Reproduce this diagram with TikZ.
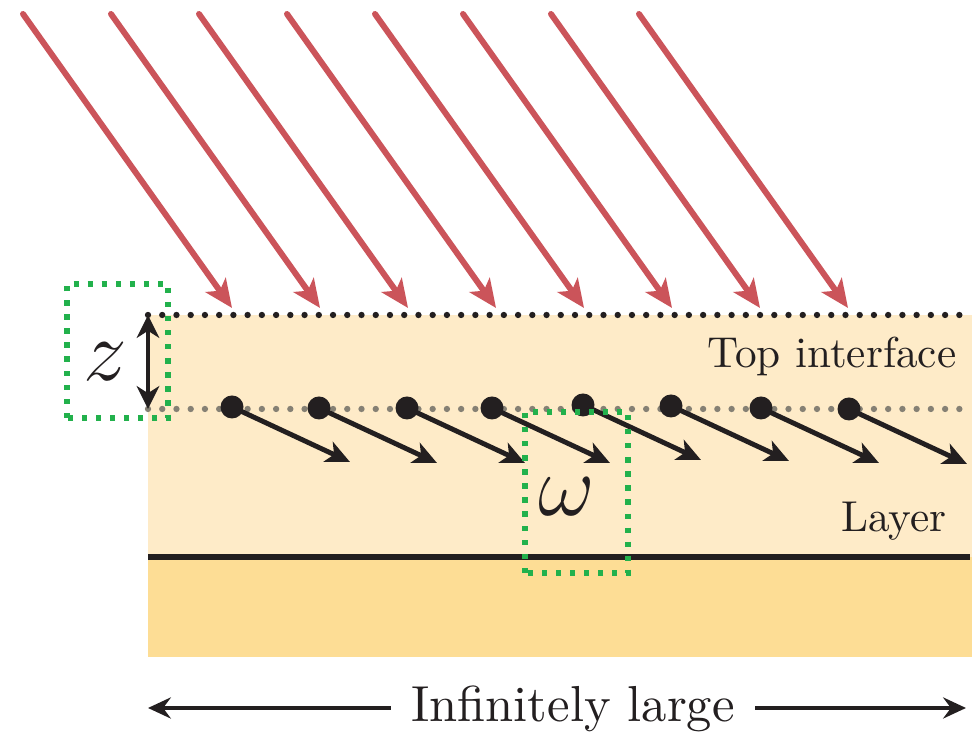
\documentclass[tikz,border=0pt]{standalone}
\usepackage{amsmath,amssymb}
\usepackage{fontspec}
\setmainfont{lmroman10-regular}[Extension=.otf]
\usepackage{tikz}
\usetikzlibrary{arrows.meta,positioning,calc}
\usepackage{xcolor}
\definecolor{ink}{HTML}{231F20}
\definecolor{rayred}{HTML}{CB545A}
\definecolor{mark}{HTML}{22B14C}
\definecolor{dotgray}{HTML}{858074}
\definecolor{layerlight}{HTML}{FEEBC8}
\definecolor{layerdark}{HTML}{FDDD95}

\begin{document}
\begin{tikzpicture}[
  ray/.style={-{Stealth[length=8pt, width=7pt, inset=2pt]}, line width=1.7pt, color=rayred, line cap=round},
  spin/.style={-{Stealth[length=6.8pt, width=6.2pt, inset=1.8pt]}, line width=1.4pt, color=ink},
  site/.style={circle, fill=ink, minimum size=2.3mm, inner sep=0pt},
  dotline/.style={line width=1.8pt, line cap=round, dash pattern=on 0pt off 4.05pt},
  greenbox/.style={draw=mark, line width=1.6pt, dash pattern=on 1.5pt off 2.5pt},
  span/.style={{Stealth[length=6.5pt, width=6pt, inset=2.2pt]}-, line width=1.05pt, color=ink},
  both/.style={{Stealth[length=6.5pt, width=6.4pt, inset=2pt]}-{Stealth[length=6.5pt, width=6.4pt, inset=2pt]}, line width=1.3pt, color=ink},
  lbl/.style={font=\fontsize{12.3}{14}\selectfont, text=ink, inner sep=0pt},
  big/.style={font=\fontsize{23}{25}\selectfont, text=ink, inner sep=0pt}
]
\useasboundingbox (0,0) rectangle (9.72,7.34);

% --- the layer and the substrate
\fill[layerlight] (1.48,1.77) rectangle (9.72,4.19);
\fill[layerdark]  (1.48,0.77) rectangle (9.72,1.77);
\draw[ink, line width=1.6pt] (1.48,1.77) -- (9.70,1.77);
\draw[dotline, ink]     (1.48,4.19) -- (9.72,4.19);
\draw[dotline, dotgray] (1.48,3.25) -- (9.72,3.25);

% --- incoming rays
\coordinate (r1) at (0.23,7.20); \coordinate (t1) at (2.32,4.26);
\coordinate (r2) at (1.11,7.20); \coordinate (t2) at (3.20,4.26);
\coordinate (r3) at (1.99,7.20); \coordinate (t3) at (4.08,4.26);
\coordinate (r4) at (2.87,7.20); \coordinate (t4) at (4.96,4.26);
\coordinate (r5) at (3.75,7.20); \coordinate (t5) at (5.84,4.26);
\coordinate (r6) at (4.63,7.20); \coordinate (t6) at (6.72,4.26);
\coordinate (r7) at (5.51,7.20); \coordinate (t7) at (7.60,4.26);
\coordinate (r8) at (6.39,7.20); \coordinate (t8) at (8.48,4.26);
\draw[ray] (r1) -- (t1);
\draw[ray] (r2) -- (t2);
\draw[ray] (r3) -- (t3);
\draw[ray] (r4) -- (t4);
\draw[ray] (r5) -- (t5);
\draw[ray] (r6) -- (t6);
\draw[ray] (r7) -- (t7);
\draw[ray] (r8) -- (t8);

% --- sites and their moments
\node[site] (d1) at (2.32,3.27) {};
\node[site] (d2) at (3.19,3.26) {};
\node[site] (d3) at (4.07,3.26) {};
\node[site] (d4) at (4.92,3.26) {};
\node[site] (d5) at (5.83,3.29) {};
\node[site] (d6) at (6.71,3.28) {};
\node[site] (d7) at (7.61,3.26) {};
\node[site] (d8) at (8.49,3.25) {};
\coordinate (s1) at ($(d1)+(1.18,-0.55)$);
\coordinate (s2) at ($(d2)+(1.18,-0.55)$);
\coordinate (s3) at ($(d3)+(1.18,-0.55)$);
\coordinate (s4) at ($(d4)+(1.18,-0.55)$);
\coordinate (s5) at ($(d5)+(1.18,-0.55)$);
\coordinate (s6) at ($(d6)+(1.18,-0.55)$);
\coordinate (s7) at ($(d7)+(1.18,-0.55)$);
\coordinate (s8) at ($(d8)+(1.18,-0.55)$);
\draw[spin] (d1.center) -- (s1);
\draw[spin] (d2.center) -- (s2);
\draw[spin] (d3.center) -- (s3);
\draw[spin] (d4.center) -- (s4);
\draw[spin] (d5.center) -- (s5);
\draw[spin] (d6.center) -- (s6);
\draw[spin] (d7.center) -- (s7);
\draw[spin] (d8.center) -- (s8);

% --- depth z and frequency omega
\draw[greenbox] (0.67,3.16) rectangle (1.68,4.50);
\draw[greenbox] (5.25,1.61) rectangle (6.28,3.22);
\coordinate (ztop) at (1.48,4.19);
\coordinate (zbot) at (1.48,3.25);
\draw[both] (ztop) -- (zbot);
\node[big] (zlbl) at (1.05,3.72) {$z$};
\node[big] (wlbl) at (5.67,2.37) {$\omega$};

% --- labels
\node[lbl, anchor=base east] (top) at (9.57,3.66) {Top interface};
\node[lbl, anchor=base east] (lay) at (9.47,2.02) {Layer};
\node[lbl, anchor=base, font=\fontsize{14.4}{16}\selectfont, inner xsep=0.2cm] (inf) at (5.73,0.12) {Infinitely large};
\coordinate (wl) at (1.48,0.26);
\coordinate (wr) at (9.66,0.26);
\draw[span] (wl) -- (inf.west |- wl);
\draw[span] (wr) -- (inf.east |- wr);

\end{tikzpicture}
\end{document}
